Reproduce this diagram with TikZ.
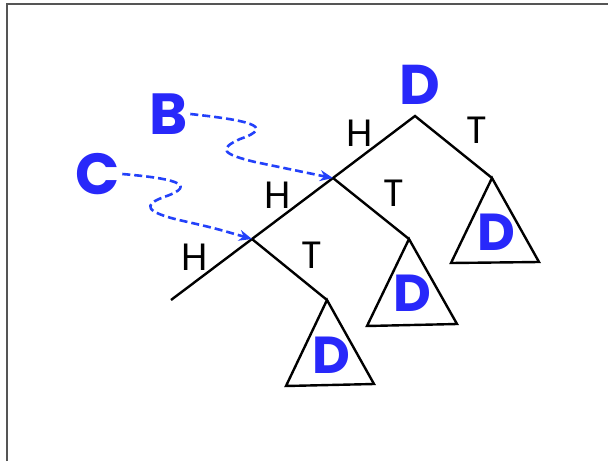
\documentclass[tikz,border=0pt]{standalone}
\usepackage{fontspec}
\setmainfont{Poppins}
\usetikzlibrary{arrows.meta}
\definecolor{dblue}{RGB}{40,40,250}
\definecolor{ablue}{RGB}{35,65,250}
\definecolor{framegray}{RGB}{85,85,85}
\begin{document}
\begin{tikzpicture}[x=1pt,y=-1pt,
  edge/.style={line width=2.4pt, black, line join=miter},
  lbl/.style={inner sep=0pt, font=\fontsize{38}{38}\selectfont},
  bigd/.style={inner sep=0pt, text=dblue, font=\fontsize{52}{52}\selectfont\bfseries},
  pointer/.style={inner sep=2pt, text=dblue, font=\fontsize{58}{58}\selectfont\bfseries},
  arr/.style={ablue, line width=2.6pt, dash pattern=on 8pt off 4pt, -{Stealth[length=13pt,width=11pt]}}]
\useasboundingbox (0,0) rectangle (608,461);
\draw[framegray, line width=1.8pt] (7,461) -- (7,4) -- (608,4);
% tree vertices
\coordinate (r) at (415,116);
\coordinate (a) at (333,178);
\coordinate (b) at (252,239);
\coordinate (leaf) at (171,300);
\coordinate (t1) at (492,178);
\coordinate (t2) at (409,239);
\coordinate (t3) at (327,300);
\draw[edge] (leaf) -- (b) -- (a) -- (r) -- (t1);
\draw[edge] (a) -- (t2);
\draw[edge] (b) -- (t3);
\draw[edge] (t1) -- ++(-41,85) -- ++(88,-1) -- cycle;
\draw[edge] (t2) -- ++(-42,87) -- ++(90,-2) -- cycle;
\draw[edge] (t3) -- ++(-41,86) -- ++(88,-2) -- cycle;
% labels
\node[lbl] (hr) at (360,133) {H};
\node[lbl] (tr) at (477,130) {T};
\node[lbl] (ha) at (278,195) {H};
\node[lbl] (ta) at (394,193) {T};
\node[lbl] (hb) at (195,257) {H};
\node[lbl] (tb) at (312,255) {T};
\node[bigd, font=\fontsize{56}{56}\selectfont\bfseries] (dr) at (420,85) {D};
\node[bigd] (d1) at (496,232) {D};
\node[bigd] (d2) at (412,293) {D};
\node[bigd] (d3) at (331,355) {D};
% pointers
\node[pointer] (B) at (169,114) {B};
\node[pointer] (C) at (98,174) {C};
\draw[arr] (B.east) .. controls (245,120) and (278,126) .. (240,139)
  .. controls (218,149) and (222,154) .. (255,162) .. controls (290,170) .. (a);
\draw[arr] (C.east) .. controls (169,178) and (202,184) .. (164,197)
  .. controls (142,205) and (146,212) .. (179,220) .. controls (214,228) .. (b);
\end{tikzpicture}
\end{document}
